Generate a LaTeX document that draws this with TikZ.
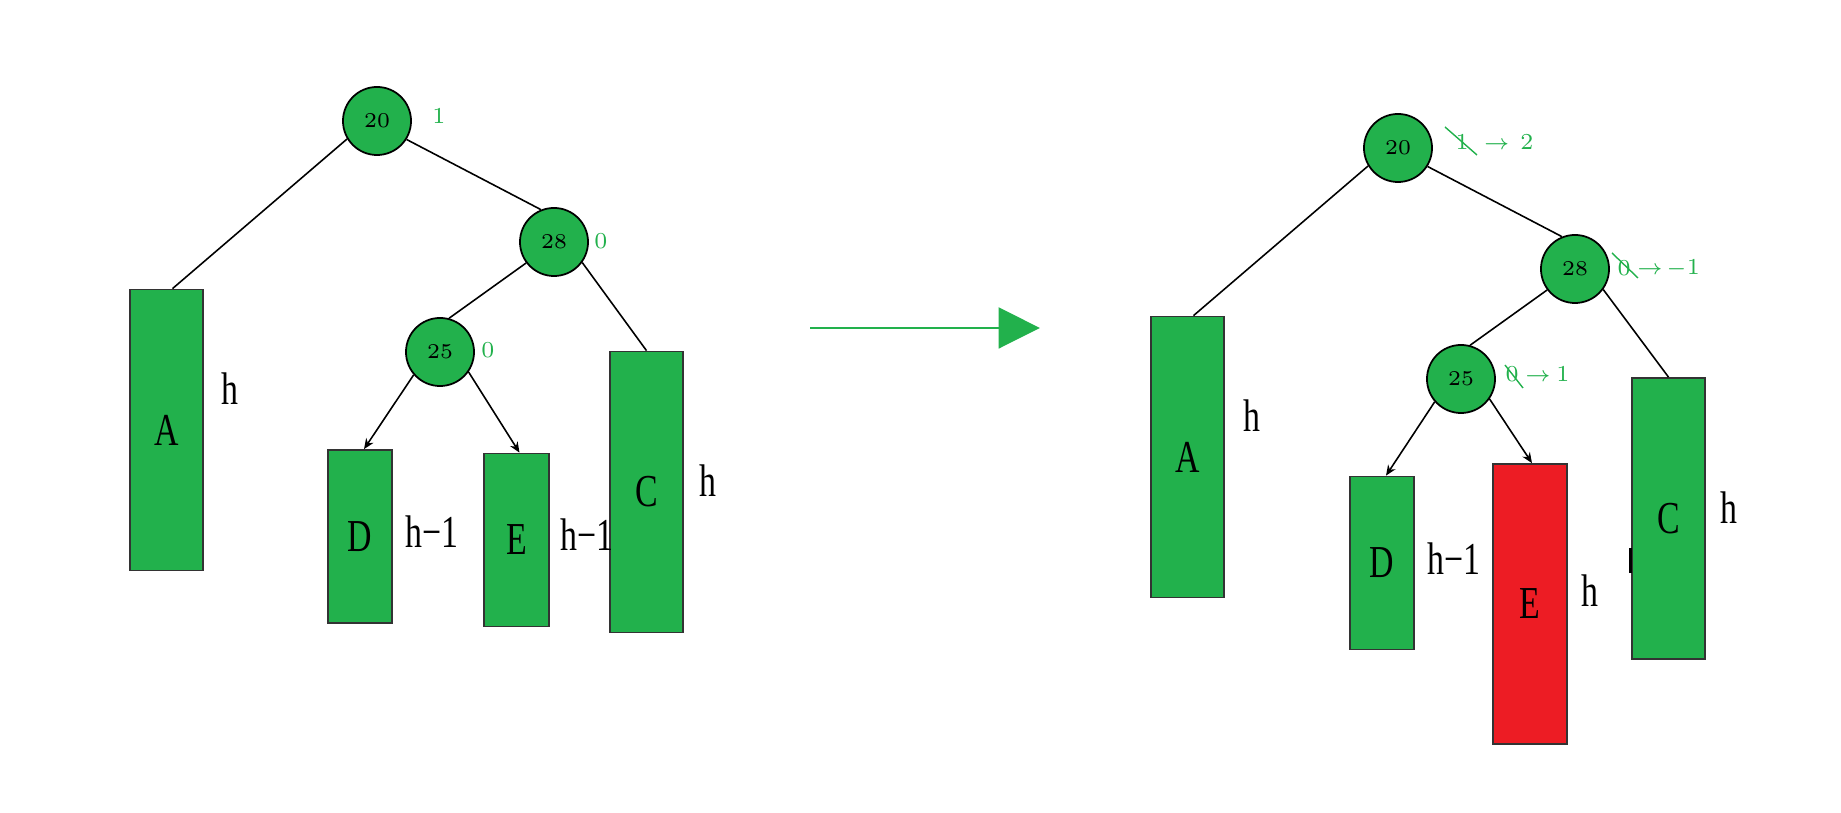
\documentclass[tikz,border=0pt]{standalone}
\usepackage{fontspec}
\newfontfamily\narrowserif[FakeStretch=0.74]{Liberation Serif}
\usetikzlibrary{arrows.meta,positioning}
\definecolor{paintgreen}{HTML}{22B14C}
\definecolor{paintred}{HTML}{ED1C24}
\begin{document}
\begin{tikzpicture}[
        x=0.01cm, y=-0.01cm,
        >=Stealth,
        keynode/.style={
            circle,
            draw=black,
            fill=paintgreen,
            line width=0.5pt,
            minimum size=0.68cm,
            inner sep=0pt,
            font=\fontsize{6}{7}\selectfont
        },
        tallbox/.style={
            rectangle,
            draw=black!80,
            fill=paintgreen,
            line width=0.45pt,
            minimum width=0.73cm,
            minimum height=2.81cm,
            inner sep=0pt,
            font=\narrowserif\fontsize{13}{15}\selectfont
        },
        shortbox/.style={tallbox, minimum width=0.645cm, minimum height=1.73cm},
        ht/.style={inner sep=0pt, font=\narrowserif\fontsize{13}{15}\selectfont},
        bal/.style={inner sep=0pt, text=paintgreen, font=\fontsize{6.5}{8}\selectfont},
        strike/.style={draw=paintgreen, line width=0.4pt},
        edge/.style={draw=black, line width=0.45pt},
        tipedge/.style={edge, -{Stealth[length=3pt,width=2.5pt]}},
        bigarrow/.style={-{Triangle[length=11.8pt,width=11.6pt]}, draw=paintgreen, line width=0.8pt}
    ]
    \useasboundingbox (0,0) rectangle (1841,813);

    % left tree, before the insertion
    \node[keynode] (l20) at (377,121) {20};
    \node[keynode] (l28) at (554,242) {28};
    \node[keynode] (l25) at (440,352) {25};
    \node[tallbox] (lA) at (166.5,430) {A};
    \node[shortbox] (lD) at (360,536.5) {D};
    \node[shortbox] (lE) at (516.5,540) {E};
    \node[tallbox] (lC) at (646.5,492) {C};

    \node[bal] (lb20) at (439,116) {1};
    \node[bal] (lb28) at (601,241) {0};
    \node[bal] (lb25) at (488,350) {0};

    \node[ht] (lhA) at (230,389) {h};
    \node[ht] (lhD) at (432,532) {h−1};
    \node[ht] (lhE) at (587,535) {h−1};
    \node[ht] (lhC) at (708,481) {h};

    \draw[edge] (l20.211) -- ([xshift=0.06cm]lA.north);
    \draw[edge] (l20.-32) -- (l28.112);
    \draw[edge] (l28.217) -- (l25.75);
    \draw[edge] (l28.-36) -- (lC.north);
    \draw[tipedge] (l25.221) -- ([xshift=0.04cm]lD.north);
    \draw[tipedge] (l25.-35) -- ([xshift=0.03cm]lE.north);

    % big arrow between the trees
    \coordinate (arrS) at (810,328);
    \coordinate (arrE) at (1040,328);
    \draw[bigarrow] (arrS) -- (arrE);

    % right tree, after the insertion into E
    \begin{scope}[shift={(1021,27)}]
    \node[keynode] (r20) at (377,121) {20};
    \node[keynode] (r28) at (554,242) {28};
    \node[keynode] (r25) at (440,352) {25};
    \node[tallbox] (rA) at (166.5,430) {A};
    \node[shortbox] (rD) at (361,536) {D};
    \node[tallbox, fill=paintred, minimum width=0.74cm, minimum height=2.8cm] (rE) at (509,577) {E};
    \node[tallbox] (rC) at (647.5,491.5) {C};

    \node[bal] (rb20) at (441,115) {1};
    \node[bal, right=4pt of rb20] (rn20) {$\to$\hspace{3pt}2};
    \node[bal] (rb28) at (603,241) {0};
    \node[bal, right=1.5pt of rb28] (rn28) {$\to$\hspace{1pt}$-$1};
    \node[bal] (rb25) at (491,347) {0};
    \node[bal, right=1.5pt of rb25] (rn25) {$\to$\hspace{1.5pt}1};
    \draw[strike] ([shift={(-17,-15)}]rb20.center) -- ([shift={(15,13)}]rb20.center);
    \draw[strike] ([shift={(-12,-15)}]rb28.center) -- ([shift={(14,10)}]rb28.center);
    \draw[strike] ([shift={(-7,-9)}]rb25.center) -- ([shift={(11,14)}]rb25.center);

    \node[ht] (rhA) at (231,389) {h};
    \node[ht] (rhD) at (433,532) {h−1};
    \node[ht] (rhE) at (569,564) {h};
    \node[ht] (rhC) at (708,481) {h};
    \draw[line width=0.8pt] ([shift={(-1,30)}]rC.west) -- ([shift={(-1,55)}]rC.west);

    \draw[edge] (r20.211) -- ([xshift=0.06cm]rA.north);
    \draw[edge] (r20.-32) -- (r28.112);
    \draw[edge] (r28.217) -- (r25.75);
    \draw[edge] (r28.-36) -- (rC.north);
    \draw[tipedge] (r25.221) -- ([xshift=0.04cm]rD.north);
    \draw[tipedge] (r25.-35) -- ([xshift=0.02cm]rE.north);
    \end{scope}

\end{tikzpicture}
\end{document}
